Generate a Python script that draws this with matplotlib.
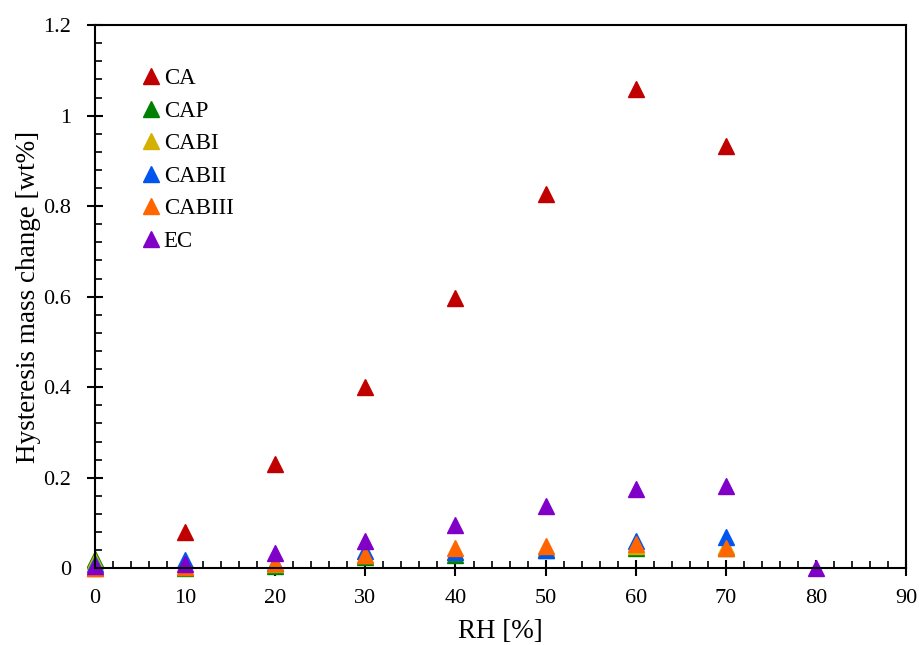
import matplotlib
matplotlib.use('Agg')
import matplotlib.pyplot as plt
from matplotlib.ticker import MultipleLocator

plt.rcParams['font.family'] = ['Liberation Serif', 'DejaVu Serif']

rh = [0, 10, 20, 30, 40, 50, 60, 70, 80]
ca = [0.0, 0.08, 0.23, 0.40, 0.597, 0.826, 1.058, 0.932, None]
cap = [0.02, 0.0, 0.005, 0.025, 0.03, 0.04, 0.045, 0.045, None]
cabi = [0.015, 0.002, 0.01, 0.03, 0.035, 0.045, 0.05, 0.05, None]
cabii = [0.01, 0.018, 0.012, 0.037, 0.035, 0.04, 0.06, 0.07, None]
cabiii = [0.0, 0.003, 0.012, 0.03, 0.044, 0.05, 0.053, 0.045, None]
ec = [0.005, 0.01, 0.033, 0.06, 0.095, 0.137, 0.175, 0.182, 0.0]

series = [
    ('CA', ca, '#c00000'),
    ('CAP', cap, '#008000'),
    ('CABI', cabi, '#d4b000'),
    ('CABII', cabii, '#0055ee'),
    ('CABIII', cabiii, '#ff6600'),
    ('EC', ec, '#8000c8'),
]

fig, ax = plt.subplots(figsize=(9.21, 6.45), dpi=100)
fig.subplots_adjust(left=0.103, right=0.984, top=0.961, bottom=0.119)

for name, vals, col in series:
    xs = [x for x, v in zip(rh, vals) if v is not None]
    ys = [v for v in vals if v is not None]
    ax.plot(xs, ys, linestyle='none', marker='^', markersize=11,
            color=col, label=name, clip_on=False)

ax.set_xlim(0, 90)
ax.set_ylim(0, 1.2)
ax.xaxis.set_major_locator(MultipleLocator(10))
ax.xaxis.set_minor_locator(MultipleLocator(2))
ax.set_yticks([0, 0.2, 0.4, 0.6, 0.8, 1.0, 1.2])
ax.set_yticklabels(['0', '0.2', '0.4', '0.6', '0.8', '1', '1.2'])
ax.yaxis.set_minor_locator(MultipleLocator(0.04))
ax.tick_params(which='major', direction='inout', length=12, width=1.5, labelsize=16)
ax.tick_params(axis='x', which='major', pad=9)
ax.tick_params(axis='y', which='major', pad=11)
ax.tick_params(which='minor', direction='in', length=5, width=1.2)
for s in ax.spines.values():
    s.set_linewidth(1.5)

ax.set_xlabel('RH [%]', fontsize=19.5, labelpad=8)
ax.set_ylabel('Hysteresis mass change [wt%]', fontsize=19.5, labelpad=2)

ax.legend(loc='upper left', bbox_to_anchor=(0.044, 0.942), frameon=False,
          fontsize=16.5, handlelength=0.8, handletextpad=0.15,
          labelspacing=0.5, borderpad=0)

fig.savefig('out.png', dpi=100)
